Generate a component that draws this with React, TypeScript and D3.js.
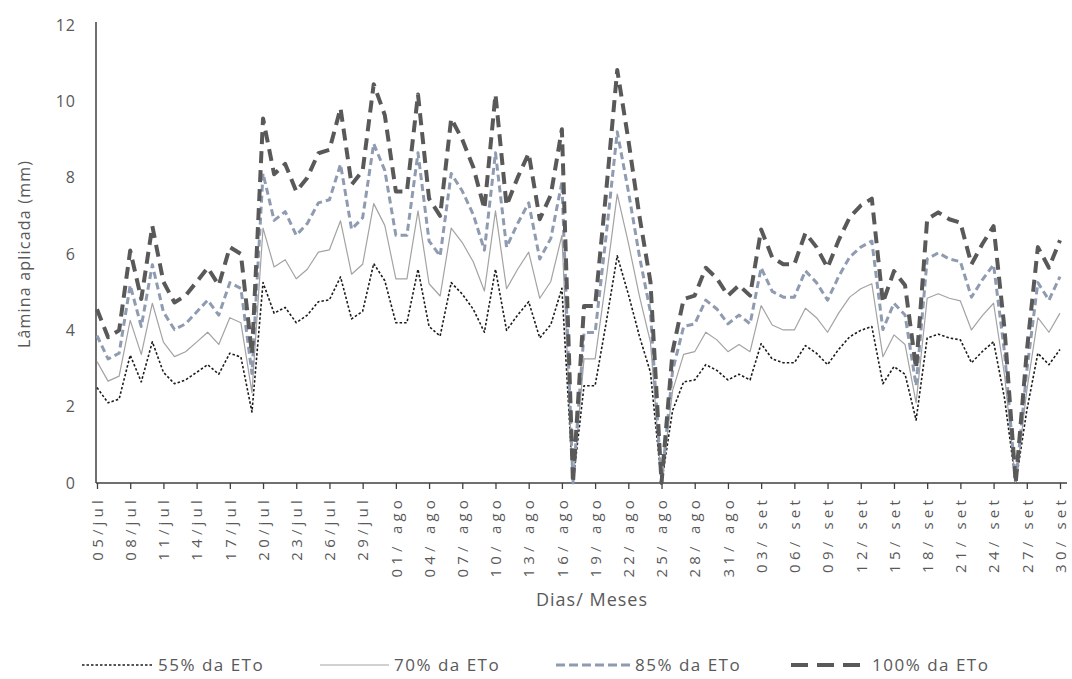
import { useRef, useEffect } from 'react'
import * as d3 from 'd3'

const WIDTH = 1072
const HEIGHT = 679
const X0 = 97
const X1 = 1060
const Y0 = 483
const Y1 = 25

const START = new Date(2000, 6, 5)
const DAYS = d3.timeDay.range(START, new Date(2000, 9, 1))

const TICK_LABELS = [
  '05/jul', '08/jul', '11/jul', '14/jul', '17/jul', '20/jul', '23/jul', '26/jul', '29/jul',
  '01/ ago', '04/ ago', '07/ ago', '10/ ago', '13/ ago', '16/ ago', '19/ ago', '22/ ago', '25/ ago', '28/ ago', '31/ ago',
  '03/ set', '06/ set', '09/ set', '12/ set', '15/ set', '18/ set', '21/ set', '24/ set', '27/ set', '30/ set',
]

const Y_TICKS = [0, 2, 4, 6, 8, 10, 12]

// lâmina aplicada (mm), one value per day
const ETO_55 = [
  2.5, 2.1, 2.2, 3.35, 2.65, 3.7, 2.9, 2.6, 2.7, 2.9,
  3.1, 2.85, 3.4, 3.3, 1.86, 5.25, 4.45, 4.6, 4.2, 4.4,
  4.75, 4.8, 5.4, 4.3, 4.5, 5.75, 5.3, 4.2, 4.2, 5.6,
  4.1, 3.85, 5.25, 4.95, 4.55, 3.95, 5.6, 4.0, 4.4, 4.75,
  3.8, 4.15, 5.1, 0, 2.55, 2.55, 4.2, 5.95, 4.95, 3.85,
  2.9, 0, 1.9, 2.65, 2.7, 3.1, 2.95, 2.7, 2.85, 2.7,
  3.65, 3.25, 3.15, 3.15, 3.6, 3.4, 3.1, 3.5, 3.83, 4.0,
  4.1, 2.6, 3.05, 2.85, 1.65, 3.8, 3.9, 3.8, 3.75, 3.15,
  3.45, 3.7, 2.2, 0, 1.9, 3.4, 3.1, 3.5,
]

const ETO_70 = [
  3.18, 2.67, 2.8, 4.26, 3.37, 4.71, 3.69, 3.31, 3.44, 3.69,
  3.95, 3.63, 4.33, 4.2, 2.37, 6.68, 5.66, 5.85, 5.35, 5.6,
  6.05, 6.11, 6.87, 5.47, 5.73, 7.32, 6.75, 5.35, 5.35, 7.13,
  5.22, 4.9, 6.68, 6.3, 5.79, 5.03, 7.13, 5.09, 5.6, 6.05,
  4.84, 5.28, 6.49, 0, 3.25, 3.25, 5.35, 7.57, 6.3, 4.9,
  3.69, 0, 2.42, 3.37, 3.44, 3.95, 3.75, 3.44, 3.63, 3.44,
  4.65, 4.14, 4.01, 4.01, 4.58, 4.33, 3.95, 4.45, 4.87, 5.09,
  5.22, 3.31, 3.88, 3.63, 2.1, 4.84, 4.96, 4.84, 4.77, 4.01,
  4.39, 4.71, 2.8, 0, 2.42, 4.33, 3.95, 4.45,
]

const ETO_85 = [
  3.86, 3.25, 3.4, 5.18, 4.1, 5.72, 4.48, 4.02, 4.17, 4.48,
  4.79, 4.4, 5.25, 5.1, 2.87, 8.11, 6.88, 7.11, 6.49, 6.8,
  7.34, 7.42, 8.35, 6.65, 6.95, 8.89, 8.19, 6.49, 6.49, 8.65,
  6.34, 5.95, 8.11, 7.65, 7.03, 6.1, 8.65, 6.18, 6.8, 7.34,
  5.87, 6.41, 7.88, 0, 3.94, 3.94, 6.49, 9.2, 7.65, 5.95,
  4.48, 0, 2.94, 4.1, 4.17, 4.79, 4.56, 4.17, 4.4, 4.17,
  5.64, 5.02, 4.87, 4.87, 5.56, 5.25, 4.79, 5.41, 5.92, 6.18,
  6.34, 4.02, 4.71, 4.4, 2.55, 5.87, 6.03, 5.87, 5.8, 4.87,
  5.33, 5.72, 3.4, 0, 2.94, 5.25, 4.79, 5.41,
]

const ETO_100 = [
  4.55, 3.82, 4.0, 6.09, 4.82, 6.73, 5.27, 4.73, 4.91, 5.27,
  5.64, 5.18, 6.18, 6.0, 3.38, 9.55, 8.09, 8.36, 7.64, 8.0,
  8.64, 8.73, 9.82, 7.82, 8.18, 10.45, 9.64, 7.64, 7.64, 10.18,
  7.45, 7.0, 9.55, 9.0, 8.27, 7.18, 10.18, 7.27, 8.0, 8.64,
  6.91, 7.55, 9.27, 0, 4.64, 4.64, 7.64, 10.82, 9.0, 7.0,
  5.27, 0, 3.45, 4.82, 4.91, 5.64, 5.36, 4.91, 5.18, 4.91,
  6.64, 5.91, 5.73, 5.73, 6.55, 6.18, 5.64, 6.36, 6.96, 7.27,
  7.45, 4.73, 5.55, 5.18, 3.0, 6.91, 7.09, 6.91, 6.82, 5.73,
  6.27, 6.73, 4.0, 0, 3.45, 6.18, 5.64, 6.36,
]

const SERIES = [
  { name: '55% da ETo', values: ETO_55, color: '#1c1c1c', width: 1.6, dash: '2.5,2', legendDash: '2.5,2', legendX: 82, legendW: 71 },
  { name: '70% da ETo', values: ETO_70, color: '#a3a3a3', width: 1.2, dash: null, legendDash: null, legendX: 320, legendW: 69 },
  { name: '85% da ETo', values: ETO_85, color: '#8f9bb0', width: 3, dash: '7,4', legendDash: '9,4', legendX: 556, legendW: 74 },
  { name: '100% da ETo', values: ETO_100, color: '#595959', width: 4, dash: '12,7', legendDash: '17,9', legendX: 791, legendW: 76 },
]

const FONT = "'Open Sans', 'Noto Sans', sans-serif"

export default function App() {
  const svgRef = useRef<SVGSVGElement>(null)

  useEffect(() => {
    if (!svgRef.current) return
    const svg = d3.select(svgRef.current)
    svg.selectAll('*').remove()

    const x = d3.scaleLinear().domain([0, DAYS.length - 1]).range([X0, X1])
    const y = d3.scaleLinear().domain([0, 12]).range([Y0, Y1])

    // Axes
    svg.append('line')
      .attr('x1', 96).attr('x2', 96).attr('y1', Y1 - 3).attr('y2', Y0)
      .attr('stroke', '#404040').attr('stroke-width', 1.5)

    svg.append('g')
      .attr('transform', `translate(0,${Y0})`)
      .call(
        d3.axisBottom(x)
          .tickValues(d3.range(0, DAYS.length, 3))
          .tickSize(6)
          .tickFormat((_, i) => TICK_LABELS[i])
      )
      .call((g) => {
        g.select('.domain').attr('d', `M96,0H1067`).attr('stroke', '#404040').attr('stroke-width', 1.5)
        g.selectAll('.tick line').attr('stroke', '#404040').attr('stroke-width', 1.3)
        g.selectAll('text')
          .attr('fill', '#595959')
          .attr('font-size', '15px')
          .attr('font-family', FONT)
          .attr('letter-spacing', '4.2px')
          .attr('transform', 'rotate(-90)')
          .attr('text-anchor', 'end')
          .attr('x', -13)
          .attr('y', 0)
          .attr('dy', '0.35em')
      })

    svg.append('g')
      .selectAll('text')
      .data(Y_TICKS)
      .join('text')
      .attr('x', 76)
      .attr('y', (d) => y(d))
      .attr('dy', '0.35em')
      .attr('text-anchor', 'end')
      .attr('fill', '#595959')
      .attr('font-size', '16px')
      .attr('font-family', FONT)
      .attr('letter-spacing', '1px')
      .text((d) => d)

    // Lines
    SERIES.forEach((s) => {
      const line = d3.line<number>()
        .x((_, i) => x(i))
        .y((d) => y(d))
      svg.append('path')
        .datum(s.values)
        .attr('fill', 'none')
        .attr('stroke', s.color)
        .attr('stroke-width', s.width)
        .attr('stroke-dasharray', s.dash)
        .attr('stroke-linejoin', 'round')
        .attr('d', line)
    })

    // Titles
    svg.append('text')
      .attr('transform', `translate(24,254) rotate(-90)`)
      .attr('text-anchor', 'middle')
      .attr('fill', '#595959')
      .attr('font-size', '16px')
      .attr('font-family', FONT)
      .attr('letter-spacing', '1.2px')
      .attr('dy', '0.35em')
      .text('Lâmina aplicada (mm)')

    svg.append('text')
      .attr('x', 592)
      .attr('y', 600)
      .attr('text-anchor', 'middle')
      .attr('fill', '#595959')
      .attr('font-size', '18px')
      .attr('font-family', FONT)
      .attr('letter-spacing', '1px')
      .attr('dy', '0.35em')
      .text('Dias/ Meses')

    // Legend
    const legend = svg.append('g').attr('transform', 'translate(0,665)')
    SERIES.forEach((s) => {
      legend.append('line')
        .attr('x1', s.legendX).attr('x2', s.legendX + s.legendW)
        .attr('stroke', s.color)
        .attr('stroke-width', s.width)
        .attr('stroke-dasharray', s.legendDash)
      legend.append('text')
        .attr('x', s.legendX + s.legendW + 5)
        .attr('dy', '0.35em')
        .attr('fill', '#595959')
        .attr('font-size', '17px')
        .attr('font-family', FONT)
        .attr('letter-spacing', '1.5px')
        .text(s.name)
    })
  }, [])

  return (
    <div style={{ position: 'absolute', left: 0, top: 0 }}>
      <svg ref={svgRef} width={WIDTH} height={HEIGHT} style={{ display: 'block', background: '#fff' }} />
    </div>
  )
}
